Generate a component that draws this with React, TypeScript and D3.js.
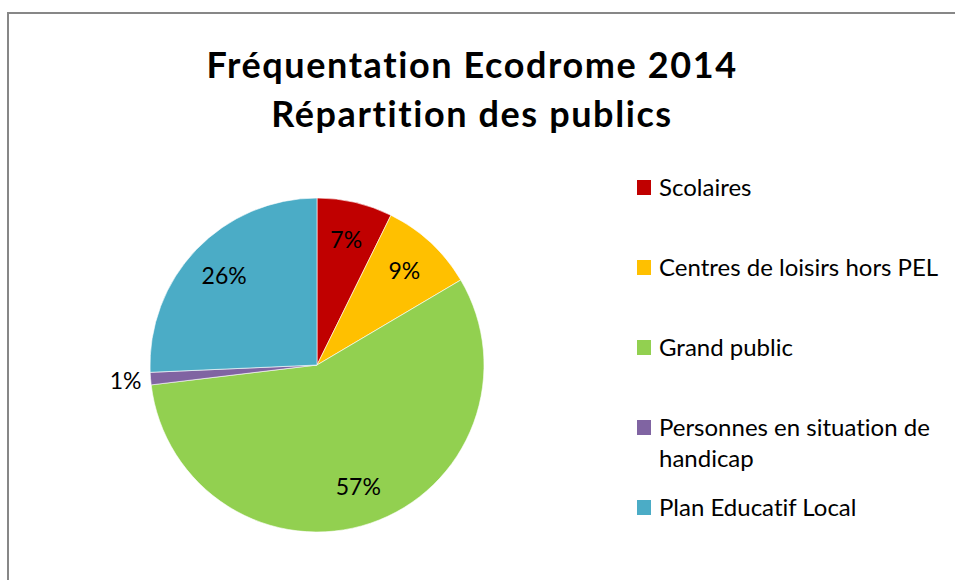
import { useMemo } from "react";
import * as d3 from "d3";

// Fréquentation Ecodrome 2014 - répartition des publics (en %)
const categories = [
  "Scolaires",
  "Centres de loisirs hors PEL",
  "Grand public",
  "Personnes en situation de handicap",
  "Plan Educatif Local",
];
const valeurs = [7.3, 9.2, 56.6, 1.2, 25.7];
const couleurs = ["#C00000", "#FFC000", "#92D050", "#8064A2", "#4BACC6"];
// libellés de légende (retour à la ligne comme dans l'original)
const lignesLegende = [
  ["Scolaires"],
  ["Centres de loisirs hors PEL"],
  ["Grand public"],
  ["Personnes en situation de", "handicap"],
  ["Plan Educatif Local"],
];
const titre = ["Fréquentation Ecodrome 2014", "Répartition des publics"];

const W = 955;
const H = 580;
const FONT = "Lato, 'Open Sans', sans-serif";

export default function App() {
  const cx = 317;
  const cy = 365;
  const rayon = 167;

  const arcs = useMemo(() => {
    const pie = d3
      .pie<number>()
      .sort(null)
      .value((d) => d);
    return pie(valeurs);
  }, []);

  const arc = d3.arc<d3.PieArcDatum<number>>().innerRadius(0).outerRadius(rayon);
  const arcLabel = d3
    .arc<d3.PieArcDatum<number>>()
    .innerRadius(rayon * 0.77)
    .outerRadius(rayon * 0.77);
  const arcExterieur = d3
    .arc<d3.PieArcDatum<number>>()
    .innerRadius(rayon * 1.15)
    .outerRadius(rayon * 1.15);

  const total = d3.sum(valeurs);
  const fmt = (v: number) => `${Math.round((v / total) * 100)}%`;

  // position verticale des entrées de légende
  const legendeY = d3
    .scalePoint<string>()
    .domain(categories)
    .range([196, 516]);

  return (
    <svg
      width={W}
      height={H}
      style={{
        position: "absolute",
        left: 0,
        top: 0,
        display: "block",
        background: "#fff",
        fontVariantLigatures: "none",
      }}
      fontFamily={FONT}
    >
      <rect x={8} y={13} width={W} height={H} fill="#fff" stroke="#878787" strokeWidth={2} />

      {titre.map((t, i) => (
        <text
          key={t}
          x={472}
          y={78 + i * 49}
          textAnchor="middle"
          fontSize={36}
          fontWeight="bold"
          letterSpacing={1.6}
          fill="#000"
        >
          {t}
        </text>
      ))}

      <g transform={`translate(${cx},${cy})`}>
        {arcs.map((a, i) => (
          <path key={categories[i]} d={arc(a) ?? ""} fill={couleurs[i]} stroke="#fff" strokeWidth={0.6} />
        ))}
        {arcs.map((a, i) => {
          const petit = a.endAngle - a.startAngle < 0.15;
          const [x, y] = petit ? arcExterieur.centroid(a) : arcLabel.centroid(a);
          return (
            <text
              key={"l" + categories[i]}
              x={x}
              y={y}
              dy="0.35em"
              textAnchor="middle"
              fontSize={23}
              fill="#000"
            >
              {fmt(a.data)}
            </text>
          );
        })}
      </g>

      <g>
        {categories.map((c, i) => {
          const y = legendeY(c) ?? 0;
          return (
            <g key={"lg" + c}>
              <rect x={637} y={y - 16} width={14} height={15} fill={couleurs[i]} />
              {lignesLegende[i].map((l, j) => (
                <text key={l} x={659} y={y + j * 31} fontSize={24} fill="#000">
                  {l}
                </text>
              ))}
            </g>
          );
        })}
      </g>
    </svg>
  );
}
